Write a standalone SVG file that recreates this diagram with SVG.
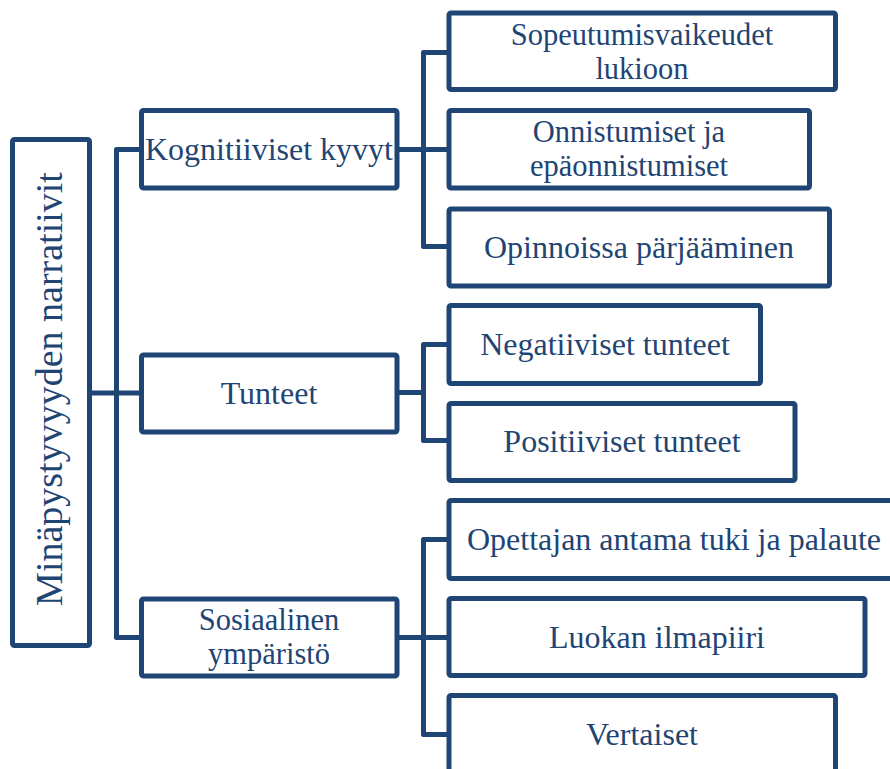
<svg xmlns="http://www.w3.org/2000/svg" width="890" height="769" viewBox="0 0 890 769">
<style>
.box{fill:#ffffff;stroke:#1f4574;stroke-width:5;stroke-linejoin:round}
.con{fill:none;stroke:#1f4574;stroke-width:5;stroke-linejoin:round}
text{font-family:"Liberation Serif","Times New Roman",serif;font-size:32px;fill:#1f4574;text-anchor:middle}
.root{font-size:38px}
.two{font-size:30.5px}
</style>
<rect width="890" height="769" fill="#ffffff"/>
<g id="connectors">
<path class="con" d="M89.5 393 H141.5"/>
<path class="con" d="M141.5 149.5 H116.5 V637.5 H141.5"/>
<path class="con" d="M449 52.5 H423.5 V246.5 H449"/>
<path class="con" d="M397 149.5 H449"/>
<path class="con" d="M449 344.5 H423.5 V440.5 H449"/>
<path class="con" d="M397 392.5 H423.5"/>
<path class="con" d="M449 539.5 H423.5 V734.5 H449"/>
<path class="con" d="M397 637.5 H449"/>
</g>
<g id="root">
<rect class="box" x="12.5" y="139.5" width="77" height="506" rx="2"/>
<text class="root" transform="translate(62,389) rotate(-90)">Minäpystyvyyden narratiivit</text>
</g>
<g id="kognitiiviset">
<rect class="box" x="141.5" y="110.5" width="255.5" height="77.5" rx="2"/>
<text x="269" y="159.5">Kognitiiviset kyvyt</text>
</g>
<g id="tunteet">
<rect class="box" x="141.5" y="355" width="255.5" height="77" rx="2"/>
<text x="269" y="403.5">Tunteet</text>
</g>
<g id="sosiaalinen">
<rect class="box" x="141.5" y="599" width="255.5" height="77" rx="2"/>
<text class="two" x="269" y="629.5">Sosiaalinen</text>
<text class="two" x="269" y="663.5">ympäristö</text>
</g>
<g id="sopeutumis">
<rect class="box" x="449" y="13" width="386.5" height="76.5" rx="2"/>
<text class="two" x="642" y="44.5">Sopeutumisvaikeudet</text>
<text class="two" x="642" y="78.5">lukioon</text>
</g>
<g id="onnistumiset">
<rect class="box" x="449" y="110.5" width="360.5" height="77.5" rx="2"/>
<text class="two" x="629" y="141.5">Onnistumiset ja</text>
<text class="two" x="629" y="175.5">epäonnistumiset</text>
</g>
<g id="opinnoissa">
<rect class="box" x="449" y="209" width="380.5" height="77" rx="2"/>
<text x="639" y="258">Opinnoissa pärjääminen</text>
</g>
<g id="negatiiviset">
<rect class="box" x="449" y="305.5" width="311.5" height="78" rx="2"/>
<text x="605" y="354.5">Negatiiviset tunteet</text>
</g>
<g id="positiiviset">
<rect class="box" x="449" y="403.5" width="346" height="77" rx="2"/>
<text x="622" y="452">Positiiviset tunteet</text>
</g>
<g id="opettajan">
<rect class="box" x="449" y="500.5" width="450" height="78" rx="2"/>
<text x="674" y="550">Opettajan antama tuki ja palaute</text>
</g>
<g id="luokan">
<rect class="box" x="449" y="598.5" width="416" height="77" rx="2"/>
<text x="657" y="647.5">Luokan ilmapiiri</text>
</g>
<g id="vertaiset">
<rect class="box" x="449" y="695.5" width="386.5" height="78" rx="2"/>
<text x="642" y="745">Vertaiset</text>
</g>
</svg>
